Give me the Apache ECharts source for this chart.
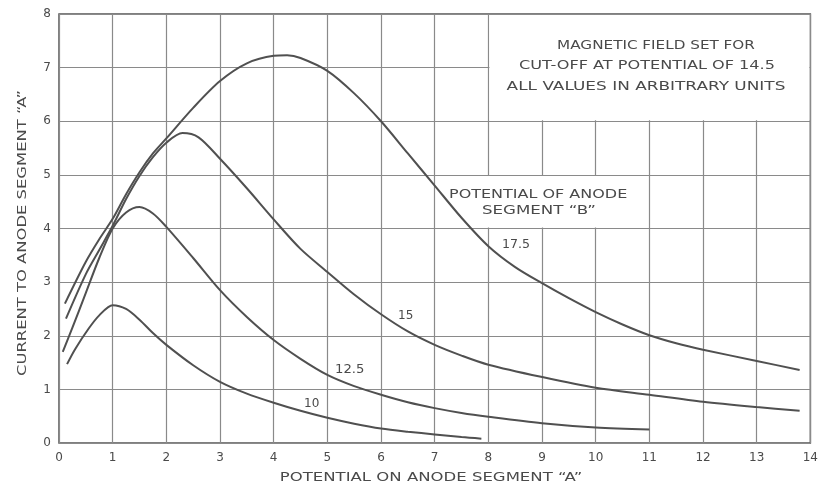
<!DOCTYPE html>
<html><head><meta charset="utf-8">
<script src="https://cdn.jsdelivr.net/npm/echarts@6/dist/echarts.min.js"></script>
<style>html,body{margin:0;padding:0;background:#fff}#c{width:821px;height:488px}</style>
</head><body><div id="c"></div>
<script>
const xTicks = [0,1,2,3,4,5,6,7,8,9,10,11,12,13,14];
const yTicks = [0,1,2,3,4,5,6,7,8];
const curve10 = [[0.15,1.47],[0.3,1.75],[0.55,2.13],[0.75,2.38],[1.0,2.57],[1.25,2.5],[1.5,2.3],[1.75,2.05],[2,1.83],[2.5,1.45],[3,1.14],[3.5,0.92],[4,0.75],[4.5,0.6],[5,0.47],[5.5,0.36],[6,0.27],[6.5,0.21],[7,0.16],[7.5,0.11],[7.87,0.08]];
const curve125 = [[0.07,1.7],[0.25,2.15],[0.5,2.8],[0.75,3.45],[1.0,4.0],[1.25,4.3],[1.5,4.4],[1.75,4.28],[2,4.03],[2.5,3.45],[3,2.85],[3.5,2.35],[4,1.92],[4.5,1.57],[5,1.27],[5.5,1.06],[6,0.9],[6.5,0.76],[7,0.65],[7.5,0.56],[8,0.49],[9,0.37],[10,0.29],[11,0.25]];
const curve15 = [[0.13,2.32],[0.5,3.15],[0.75,3.6],[1,4.05],[1.25,4.55],[1.5,4.98],[1.75,5.33],[2,5.6],[2.3,5.78],[2.6,5.7],[3,5.3],[3.5,4.75],[4,4.17],[4.5,3.62],[5,3.19],[5.5,2.77],[6,2.4],[6.5,2.08],[7,1.83],[7.5,1.63],[8,1.46],[9,1.23],[10,1.03],[11,0.9],[12,0.77],[13,0.67],[13.8,0.6]];
const curve175 = [[0.11,2.6],[0.5,3.38],[0.75,3.8],[1,4.18],[1.25,4.64],[1.5,5.05],[1.75,5.4],[2,5.68],[2.5,6.25],[3,6.75],[3.5,7.08],[4,7.22],[4.25,7.23],[4.5,7.18],[5,6.94],[5.5,6.52],[6,6.0],[6.5,5.4],[7,4.8],[7.5,4.2],[8,3.67],[8.5,3.28],[9,2.98],[9.5,2.7],[10,2.44],[10.5,2.21],[11,2.01],[11.5,1.86],[12,1.74],[13,1.53],[13.8,1.36]];
const boxText = ['MAGNETIC FIELD SET FOR','CUT-OFF AT POTENTIAL OF 14.5','ALL VALUES IN ARBITRARY UNITS'];
const legendTitle = ['POTENTIAL OF ANODE','SEGMENT \u201cB\u201d'];
const curveNames = ['10','12.5','15','17.5'];
const xName = 'POTENTIAL ON ANODE SEGMENT \u201cA\u201d';
const yName = 'CURRENT TO ANODE SEGMENT \u201cA\u201d';

const ink = '#4a4a4a';
const font = 'DejaVu Sans';
const chart = echarts.init(document.getElementById('c'));
function line(name, data, extra) {
  return Object.assign({
    name, type: 'line', data, smooth: 0.3, showSymbol: false, silent: true,
    lineStyle: {color: '#505050', width: 2}, z: 3
  }, extra || {});
}
function txt(t, x, y, size, sx, align, rot) {
  return {type: 'text', x, y, z: 100, scaleX: sx || 1, rotation: rot || 0,
    style: {text: t, fill: ink, font: size + 'px ' + font, textAlign: align || 'center', textVerticalAlign: 'middle'}};
}
chart.setOption({
  backgroundColor: '#fff',
  animation: false,
  grid: {left: 59, right: 6, top: 14, bottom: 45, show: true, borderColor: '#555', borderWidth: 1.5},
  xAxis: {
    type: 'value', min: 0, max: 14, interval: 1,
    axisLine: {show: false}, axisTick: {show: false},
    axisLabel: {color: ink, fontSize: 12, fontFamily: font, margin: 9},
    splitLine: {show: true, lineStyle: {color: '#8a8a8a', width: 1.2}}
  },
  yAxis: {
    type: 'value', min: 0, max: 8, interval: 1,
    axisLine: {show: false}, axisTick: {show: false},
    axisLabel: {color: ink, fontSize: 12, fontFamily: font, margin: 8},
    splitLine: {show: true, lineStyle: {color: '#8a8a8a', width: 1.2}}
  },
  series: [
    line(curveNames[0], curve10, {
      markArea: {silent: true, itemStyle: {color: '#fff'}, data: [
        [{coord: [8.02, 7.98]}, {coord: [13.98, 6.02]}],
        [{coord: [7.03, 4.98]}, {coord: [10.97, 4.02]}]
      ]}
    }),
    line(curveNames[1], curve125),
    line(curveNames[2], curve15),
    line(curveNames[3], curve175)
  ],
  graphic: [
    txt(boxText[0], 656, 46, 13, 1.17),
    txt(boxText[1], 647, 66, 13, 1.24),
    txt(boxText[2], 646, 87, 13, 1.3),
    txt(legendTitle[0], 449, 195, 13, 1.23, 'left'),
    txt(legendTitle[1], 482, 211, 13, 1.28, 'left'),
    txt(curveNames[3], 502, 245, 12, 1.05, 'left'),
    txt(curveNames[2], 398, 316, 12, 1, 'left'),
    txt(curveNames[1], 335, 370, 12, 1.1, 'left'),
    txt(curveNames[0], 304, 404, 12, 1, 'left'),
    txt(xName, 431, 478, 13, 1.27),
    txt(yName, 23, 233, 13, 1.26, 'center', Math.PI / 2)
  ]
});
</script></body></html>
